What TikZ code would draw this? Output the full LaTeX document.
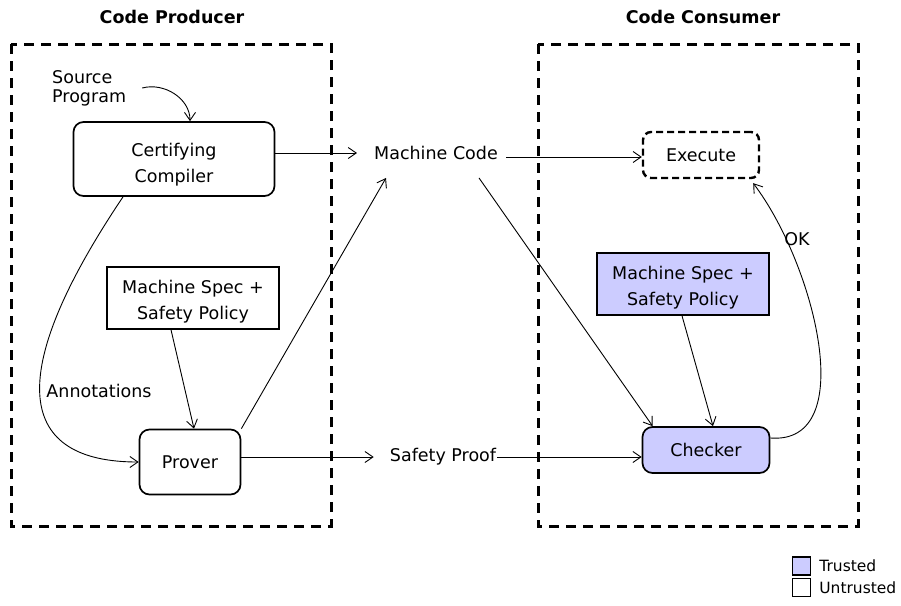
\documentclass[tikz,border=0pt]{standalone}
\usepackage{fontspec}
\setmainfont{DejaVu Sans}
\usetikzlibrary{positioning,arrows.meta}
\definecolor{trusted}{HTML}{CCCCFF}

\begin{document}
\begin{tikzpicture}[x=1pt,y=1pt,>={Straight Barb[length=8pt,width=11pt]},
   every node/.style={font=\fontsize{17.5}{26}\selectfont},
   title/.style={font=\fontsize{17.5}{21}\selectfont\bfseries},
   comp/.style={draw,line width=1.7pt,rounded corners=10pt,align=center,inner sep=0pt},
   spec/.style={draw,line width=1.5pt,align=center,inner sep=0pt,text height=46pt,
     minimum width=172pt,minimum height=62pt},
   exec/.style={draw,line width=2.4pt,dash pattern=on 7pt off 4pt,rounded corners=8pt,
     minimum width=116pt,minimum height=46pt,inner sep=0pt},
   zone/.style={line width=3pt,dash pattern=on 10pt off 7pt},
   flow/.style={->,line width=0.9pt},
   key/.style={draw,line width=1.3pt,minimum size=18pt,inner sep=0pt},
   keytext/.style={font=\fontsize{15.5}{18}\selectfont,inner sep=1pt}]
  \useasboundingbox (0,0) rectangle (901,-605);
  \draw[zone] (11,-44) rectangle (331,-526);
  \draw[zone] (538,-44) rectangle (858,-526);
  \node[title] (ptitle) at (172,-17) {Code Producer};
  \node[title] (ctitle) at (703,-17) {Code Consumer};
  \node[align=left,inner sep=0pt,anchor=west,font=\fontsize{17.5}{19}\selectfont]
    (src) at (52,-88) {Source\\Program};
  \node[comp,text height=50pt,minimum width=201pt,minimum height=74pt] (cc) at (174,-159)
    {Certifying\\Compiler};
  \node[inner xsep=8pt,inner ysep=18pt] (mcode) at (436,-153) {Machine Code};
  \node[exec] (exe) at (701,-155) {Execute};
  \node[spec] (specL) at (193,-298) {Machine Spec +\\Safety Policy};
  \node[spec,fill=trusted] (specR) at (683,-284) {Machine Spec +\\Safety Policy};
  \node[comp,minimum width=101pt,minimum height=65pt] (prover) at (190,-462) {Prover};
  \node[inner sep=1pt] (proof) at (443,-457) {Safety Proof};
  \node[comp,fill=trusted,minimum width=127pt,minimum height=46pt] (checker) at (706,-450) {Checker};
  \node (annot) at (99,-391) {Annotations};
  \node (ok) at (797,-239) {OK};
  \draw[flow] ([xshift=16pt]src.east) to[out=15,in=90] ([xshift=16pt]cc.north);
  \draw[flow] (cc.east |- mcode) -- ([xshift=-9pt]mcode.west);
  \draw[flow] ([yshift=-4pt]mcode.east) -- ([yshift=-4pt]mcode.east -| exe.west);
  \draw[flow] ([xshift=-51pt]cc.south) .. controls (0,-380) and (20,-462) .. (prover.west);
  \draw[flow] ([xshift=-22pt]specL.south) -- ([xshift=4pt]prover.north);
  \draw[flow] (prover.north east) -- ([xshift=20pt]mcode.south west);
  \draw[flow] ([xshift=-27pt]mcode.south east) -- ([xshift=11pt]checker.north west);
  \draw[flow] (prover.east |- proof) -- ([xshift=-15pt]proof.west);
  \draw[flow] (proof.east) -- (proof -| checker.west);
  \draw[flow] ([xshift=-1pt]specR.south) -- ([xshift=7pt]checker.north);
  \draw[flow] ([yshift=12pt]checker.east) .. controls (860,-445) and (815,-265)
    .. ([xshift=-7pt,yshift=-4pt]exe.south east);
  \node[key,fill=trusted] (tkey) at (801.5,-566) {};
  \node[key] (ukey) at (801.5,-587.5) {};
  \node[keytext,right=7pt of tkey] (ttxt) {Trusted};
  \node[keytext,right=7pt of ukey] (utxt) {Untrusted};
\end{tikzpicture}
\end{document}
